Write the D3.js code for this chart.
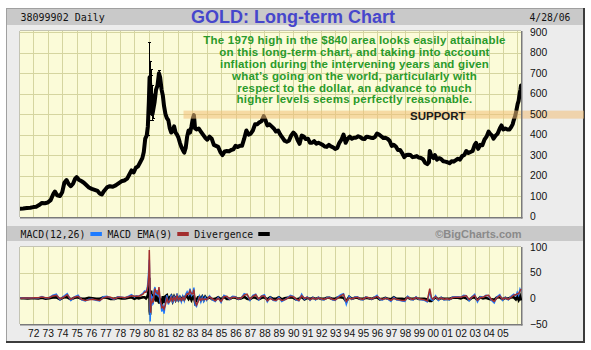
<!DOCTYPE html>
<html><head><meta charset="utf-8">
<script src="https://cdn.jsdelivr.net/npm/d3@7"></script>
<style>body{margin:0;background:#fff}svg{display:block}</style>
</head><body>
<svg id="c" width="591" height="350"></svg>
<script>
// ---------------- DATA ----------------
const yearTicks  = [1972,1973,1974,1975,1976,1977,1978,1979,1980,1981,1982,1983,1984,1985,1986,1987,1988,1989,1990,1991,1992,1993,1994,1995,1996,1997,1998,1999,2000,2001,2002,2003,2004,2005];
const yearLabels = ["72","73","74","75","76","77","78","79","80","81","82","83","84","85","86","87","88","89","90","91","92","93","94","95","96","97","98","99","00","01","02","03","04","05"];
const gridYears  = [1972,1973,1974,1975,1976,1977,1978,1979,1980,1981,1982,1983,1984,1985,1986,1987,1988,1989,1990,1991,1992,1993,1994,1995,1996,1997,1998,1999,2000,2001,2002,2003,2004,2005,2006];
const priceTicks = [0,100,200,300,400,500,600,700,800,900];
const macdTicks  = [-50,0,50,100];
const macdGrid   = [0,50];

const priceYears = [
 1971.08,1971.3,1971.55,1971.8,1972.0,1972.2,1972.4,1972.6,1972.8,1973.0,
 1973.2,1973.4,1973.5,1973.65,1973.85,1974.0,1974.15,1974.3,1974.45,1974.6,
 1974.75,1974.9,1975.0,1975.15,1975.35,1975.5,1975.65,1975.85,1976.05,1976.25,
 1976.45,1976.6,1976.75,1976.9,1977.1,1977.3,1977.5,1977.7,1977.9,1978.1,
 1978.3,1978.5,1978.65,1978.8,1978.95,1979.1,1979.25,1979.4,1979.55,1979.65,
 1979.75,1979.85,1979.93,1980.0,1980.05,1980.1,1980.15,1980.2,1980.25,1980.3,
 1980.4,1980.5,1980.6,1980.7,1980.78,1980.88,1980.97,1981.05,1981.15,1981.25,
 1981.35,1981.45,1981.55,1981.65,1981.75,1981.85,1981.95,1982.05,1982.15,1982.25,
 1982.35,1982.45,1982.55,1982.65,1982.75,1982.85,1982.95,1983.05,1983.12,1983.2,
 1983.3,1983.45,1983.6,1983.75,1983.9,1984.05,1984.2,1984.35,1984.5,1984.65,
 1984.8,1984.95,1985.1,1985.25,1985.4,1985.55,1985.7,1985.85,1986.0,1986.15,
 1986.3,1986.45,1986.6,1986.75,1986.9,1987.05,1987.2,1987.35,1987.5,1987.65,
 1987.8,1987.95,1988.05,1988.2,1988.35,1988.5,1988.65,1988.8,1988.95,1989.1,
 1989.25,1989.4,1989.55,1989.7,1989.85,1990.0,1990.15,1990.3,1990.45,1990.6,
 1990.75,1990.9,1991.05,1991.2,1991.35,1991.5,1991.65,1991.8,1991.95,1992.1,
 1992.25,1992.4,1992.55,1992.7,1992.85,1993.0,1993.15,1993.3,1993.45,1993.6,
 1993.75,1993.9,1994.05,1994.2,1994.35,1994.5,1994.65,1994.8,1994.95,1995.1,
 1995.25,1995.4,1995.55,1995.7,1995.85,1996.0,1996.15,1996.3,1996.45,1996.6,
 1996.75,1996.9,1997.05,1997.2,1997.35,1997.5,1997.65,1997.8,1997.95,1998.1,
 1998.25,1998.4,1998.55,1998.7,1998.85,1999.0,1999.15,1999.3,1999.45,1999.6,
 1999.72,1999.78,1999.9,2000.05,2000.15,2000.3,2000.45,2000.6,2000.75,2000.9,
 2001.05,2001.2,2001.35,2001.5,2001.65,2001.8,2001.95,2002.1,2002.25,2002.4,
 2002.55,2002.7,2002.85,2003.0,2003.1,2003.25,2003.4,2003.55,2003.7,2003.85,
 2004.0,2004.1,2004.25,2004.35,2004.5,2004.65,2004.8,2004.92,2005.05,2005.2,
 2005.35,2005.5,2005.6,2005.72,2005.8,2005.9,2005.98,2006.08,2006.15,2006.22,
 2006.28,2006.32];
const priceValues = [
 38,39,41,43,46,48,56,66,65,68,
 80,112,122,104,100,118,165,178,158,148,
 160,185,192,180,172,165,155,142,135,130,
 125,112,108,125,142,148,145,152,162,172,
 176,185,205,225,215,238,245,265,285,315,
 380,395,440,560,680,640,600,560,500,520,
 560,620,640,700,680,620,590,540,500,480,
 470,430,410,420,440,410,400,385,360,340,
 325,312,335,390,420,410,440,480,495,430,
 425,430,415,400,385,375,390,380,350,345,
 340,315,300,318,320,318,325,328,345,340,
 345,345,380,420,400,405,420,450,450,460,
 465,490,475,445,450,440,430,415,420,400,
 385,370,365,370,395,410,400,375,355,395,
 390,378,380,360,360,368,355,360,355,350,
 342,340,350,342,338,330,335,360,375,400,
 360,380,390,380,385,385,392,388,380,378,
 390,388,385,383,388,405,400,392,383,385,
 380,370,345,350,342,325,325,310,290,300,
 302,300,290,292,295,288,286,280,262,256,
 265,320,295,285,300,278,285,280,270,268,
 265,260,270,268,275,282,278,295,300,320,
 310,315,320,350,360,330,350,348,375,390,
 415,405,395,380,395,405,430,445,425,430,
 425,425,435,450,470,490,515,550,565,600,
 620,640];

// high-low range bars of the most volatile days (1979-80 blow-off)
const rangeYears = [1979.93,1979.98,1980.03,1980.07,1980.12,1980.17,1980.22,1980.28,1980.7];
const rangeLows  = [400,470,520,560,540,500,470,480,640];
const rangeHighs = [500,640,852,760,720,690,640,600,715];

// support zone
const supportYears  = [1982.4];
const supportLevels = [478,517];

// MACD(12,26), EMA(9) and divergence
const macdYears = [
 1971.1,1971.35,1971.6,1971.85,1972.1,1972.35,1972.6,1972.85,1973.1,1973.35,
 1973.6,1973.85,1974.1,1974.35,1974.6,1974.85,1975.1,1975.35,1975.6,1975.85,
 1976.1,1976.35,1976.6,1976.85,1977.1,1977.35,1977.6,1977.85,1978.1,1978.35,
 1978.6,1978.8,1979.0,1979.15,1979.3,1979.45,1979.6,1979.7,1979.8,1979.9,
 1979.95,1980.0,1980.03,1980.06,1980.09,1980.12,1980.16,1980.2,1980.25,1980.3,
 1980.35,1980.42,1980.5,1980.57,1980.64,1980.7,1980.77,1980.84,1980.9,1980.97,
 1981.05,1981.15,1981.25,1981.35,1981.45,1981.55,1981.65,1981.75,1981.85,1981.95,
 1982.05,1982.15,1982.25,1982.35,1982.45,1982.55,1982.65,1982.75,1982.85,1982.95,
 1983.05,1983.12,1983.2,1983.3,1983.4,1983.5,1983.6,1983.7,1983.8,1983.9,
 1984.0,1984.2,1984.4,1984.6,1984.8,1985.0,1985.2,1985.4,1985.6,1985.8,
 1986.0,1986.2,1986.4,1986.6,1986.8,1987.0,1987.2,1987.4,1987.6,1987.8,
 1988.0,1988.2,1988.4,1988.6,1988.8,1989.0,1989.2,1989.4,1989.6,1989.8,
 1990.0,1990.2,1990.4,1990.6,1990.8,1991.0,1991.2,1991.4,1991.6,1991.8,
 1992.0,1992.2,1992.4,1992.6,1992.8,1993.0,1993.2,1993.4,1993.6,1993.8,
 1994.0,1994.2,1994.4,1994.6,1994.8,1995.0,1995.2,1995.4,1995.6,1995.8,
 1996.0,1996.2,1996.4,1996.6,1996.8,1997.0,1997.2,1997.4,1997.6,1997.8,
 1998.0,1998.2,1998.4,1998.6,1998.8,1999.0,1999.2,1999.4,1999.6,1999.78,
 1999.9,2000.0,2000.2,2000.4,2000.6,2000.8,2001.0,2001.2,2001.4,2001.6,
 2001.8,2002.0,2002.2,2002.4,2002.6,2002.8,2003.0,2003.2,2003.4,2003.6,
 2003.8,2004.0,2004.2,2004.4,2004.6,2004.8,2005.0,2005.2,2005.4,2005.6,
 2005.8,2005.95,2006.05,2006.15,2006.25,2006.32];
const macdValues = [
 0.5,0.8,0.6,1,1.2,0.8,3.5,0.5,1.5,6,
 8,-3,4,9,-4,3,6,-3,-5,-2,
 -2,-4,-5,3,4,1,-2,3,2,1,
 4,7,3,5,4,7,10,14,12,22,
 35,60,75,30,-45,-20,8,-15,4,-12,
 14,22,6,16,4,14,-6,-14,-26,-12,
 -30,-8,6,-12,-4,7,-10,5,-7,9,
 -6,3,-7,4,-5,8,13,7,19,6,
 12,21,-13,-16,-5,4,-7,3,-6,2,
 -4,5,-3,-6,2,-8,6,3,-2,4,
 3,-2,1,9,7,-4,6,8,-3,5,
 7,-7,2,-4,-5,2,-6,-3,1,6,
 4,-3,-5,8,-2,3,-4,2,-3,2,
 -2,-3,1,2,-3,-4,3,7,9,-12,
 4,-2,2,3,-2,-3,3,1,-2,2,
 6,-2,-3,1,-2,-6,2,-3,-4,-5,
 -6,4,-2,-3,3,-2,-3,-4,-7,14,
 -3,-4,5,-4,2,-3,-2,-3,2,3,
 3,2,6,5,-5,3,8,-7,3,2,
 6,5,-4,-9,3,7,-4,2,-3,4,
 8,5,12,6,18,14];
const emaValues = [
 0.4,0.6,0.7,0.8,1,1,2.5,1.2,1.2,4.5,
 6,-1,2,7,-2,2,4,-2,-4,-3,
 -2,-3,-4,1,3,2,-1,2,2,1,
 3,5,4,4,4,6,8,12,12,18,
 28,48,94,55,-5,-28,-6,-10,0,-8,
 6,19,12,10,8,22,2,-8,-18,-16,
 -21,-12,0,-8,-6,2,-5,2,-4,5,
 -3,1,-4,2,-3,4,9,8,15,9,
 9,17,-5,-13,-7,1,-4,0,-3,-1,
 -3,3,-1,-5,0,-6,3,4,-1,2,
 2,-1,1,6,8,-2,4,7,-1,4,
 5,-5,0,-3,-4,0,-4,-3,0,4,
 3,-1,-4,5,0,2,-3,1,-2,1,
 -1,-2,0,1,-2,-3,1,5,8,-6,
 1,-1,1,2,-1,-2,2,1,-1,1,
 4,0,-2,0,-1,-4,0,-2,-3,-4,
 -4,2,-1,-2,2,-1,-2,-3,-5,19,
 2,-2,3,-2,1,-2,-1,-2,1,2,
 2,2,4,5,-2,2,6,-4,1,2,
 5,6,-2,-6,1,5,-2,1,-2,2,
 6,7,9,9,14,18];
const divergenceValues = [
 0.1,0.2,-0.1,0.2,0.2,-0.2,1,-0.7,0.3,1.5,
 2,-2,2,2,-2,1,2,-1,-1,1,
 0,-1,-1,2,1,-1,-1,1,0,0,
 1,2,-1,1,0,1,2,2,0,4,
 8,20,40,-25,-32,8,15,-5,4,-4,
 8,3,-6,6,-4,-8,-8,-6,-8,4,
 -9,4,6,-4,2,5,-5,3,-3,4,
 -3,2,-3,2,-2,4,4,-1,4,-3,
 3,4,-8,-3,2,3,-3,3,-3,3,
 -1,2,-2,-1,2,-2,3,-1,-1,2,
 1,-1,0,3,-1,-2,2,1,-2,1,
 2,-2,2,-1,-1,2,-2,0,1,2,
 1,-2,-1,3,-2,1,-1,1,-1,1,
 -1,-1,1,1,-1,-1,2,2,1,-6,
 3,-1,1,1,-1,-1,1,0,-1,1,
 2,-2,-1,1,-1,-2,2,-1,-1,-1,
 -2,2,-1,-1,1,-1,-1,-1,-2,-5,
 -5,-2,2,-2,1,-1,-1,-1,1,1,
 1,0,2,0,-3,1,2,-3,2,0,
 1,-1,-2,-3,2,2,-2,1,-1,2,
 2,-2,3,-3,4,-4];

const noteLines = [
 "The 1979 high in the $840 area looks easily attainable",
 "on this long-term chart, and taking into account",
 "inflation during the intervening years and given",
 "what\u2019s going on the world, particularly with",
 "respect to the dollar, an advance to much",
 "higher levels seems perfectly reasonable."
];

// ---------------- LAYOUT ----------------
const svg = d3.select("#c");
const SANS = "'Liberation Sans', Arial, sans-serif";
const MONO = "'DejaVu Sans Mono', 'Liberation Mono', monospace";
const P = {l:20, r:521, t:31, b:217};
const M = {t:247, b:324};

const x  = d3.scaleLinear().domain([1971.08, 1990, 2006.32]).range([P.l, 293.3, P.r]);
const yP = d3.scaleLinear().domain([0, 906]).range([216.5, P.t]);
const yM = d3.scaleLinear().domain([-50, 100]).range([M.b, M.t]);

// outer frame
svg.append("rect").attr("x",6).attr("y",8).attr("width",578).attr("height",334).attr("fill","#ececec");
svg.append("rect").attr("x",7).attr("y",9).attr("width",576).attr("height",16).attr("fill","#c9c9c9");
svg.append("rect").attr("x",7).attr("y",226).attr("width",576).attr("height",15).attr("fill","#c9c9c9");
svg.append("line").attr("x1",6.5).attr("x2",6.5).attr("y1",8).attr("y2",342).attr("stroke","#a0a0a0");
svg.append("line").attr("x1",6).attr("x2",584).attr("y1",8.5).attr("y2",8.5).attr("stroke","#a0a0a0");
svg.append("line").attr("x1",584).attr("x2",584).attr("y1",8).attr("y2",343).attr("stroke","#3c3c3c").attr("stroke-width",2);
svg.append("line").attr("x1",6).attr("x2",585).attr("y1",342).attr("y2",342).attr("stroke","#3c3c3c").attr("stroke-width",2);

// header texts
svg.append("text").attr("x",20.5).attr("y",20.5).attr("font-family",MONO).attr("font-size",10).attr("fill","#111").text("38099902 Daily");
svg.append("text").attr("x",529.5).attr("y",20.5).attr("font-family",MONO).attr("font-size",9.7).attr("fill","#111").text("4/28/06");
svg.append("text").attr("x",293).attr("y",22.5).attr("text-anchor","middle").attr("font-family",SANS).attr("font-weight","bold").attr("font-size",18).attr("fill","#4646cc").text("GOLD: Long-term Chart");

// panel backgrounds
function panel(top, bottom){
  svg.append("rect").attr("x",P.l).attr("y",top).attr("width",P.r-P.l).attr("height",bottom-top).attr("fill","#fbfbd8");
}
panel(P.t, P.b);
panel(M.t, M.b);

// grids
const grid = svg.append("g").attr("stroke","#d5d5a0").attr("stroke-width",1);
grid.selectAll("line.vp").data(gridYears).join("line").attr("class","vp")
  .attr("x1",d=>Math.round(x(d))+0.5).attr("x2",d=>Math.round(x(d))+0.5).attr("y1",P.t).attr("y2",P.b);
grid.selectAll("line.hp").data(priceTicks.filter(v=>v>0)).join("line").attr("class","hp")
  .attr("x1",P.l).attr("x2",P.r).attr("y1",d=>Math.round(yP(d))+0.5).attr("y2",d=>Math.round(yP(d))+0.5);
const grid2 = svg.append("g").attr("stroke","#d5d5a0").attr("stroke-width",1);
grid2.selectAll("line.vm").data(gridYears).join("line").attr("class","vm")
  .attr("x1",d=>Math.round(x(d))+0.5).attr("x2",d=>Math.round(x(d))+0.5).attr("y1",M.t).attr("y2",M.b);
grid2.selectAll("line.hm").data(macdGrid).join("line").attr("class","hm")
  .attr("x1",P.l).attr("x2",P.r).attr("y1",d=>Math.round(yM(d))+0.5).attr("y2",d=>Math.round(yM(d))+0.5);

// clip paths
const defs = svg.append("defs");
defs.append("clipPath").attr("id","cp").append("rect").attr("x",P.l).attr("y",P.t).attr("width",P.r-P.l).attr("height",P.b-P.t);
defs.append("clipPath").attr("id","cm").append("rect").attr("x",P.l).attr("y",M.t).attr("width",P.r-P.l+1).attr("height",M.b-M.t);

// price series
const gp = svg.append("g").attr("clip-path","url(#cp)");
const priceLine = d3.line().x((d,i)=>x(priceYears[i])).y(d=>yP(d));
gp.append("path").datum(priceValues).attr("d",priceLine).attr("fill","none")
  .attr("stroke","#000").attr("stroke-width",4).attr("stroke-linejoin","round").attr("stroke-linecap","round");
const rg = gp.append("g").attr("stroke","#000").attr("stroke-width",1);
rangeYears.forEach((yr,i)=>{
  const xx = Math.round(x(yr))+0.5;
  rg.append("line").attr("x1",xx).attr("x2",xx).attr("y1",yP(rangeLows[i])).attr("y2",yP(rangeHighs[i]));
  [rangeLows[i], rangeHighs[i]].forEach(v=>{
    rg.append("line").attr("x1",xx-1.5).attr("x2",xx+1.5).attr("y1",Math.round(yP(v))+0.5).attr("y2",Math.round(yP(v))+0.5);
  });
});

// support zone (translucent, over price)
svg.append("rect").attr("x",x(supportYears[0])).attr("y",yP(supportLevels[1]))
  .attr("width",584-x(supportYears[0])).attr("height",yP(supportLevels[0])-yP(supportLevels[1]))
  .attr("fill","#f2bf78").attr("opacity",0.55);

// panel borders
function borders(top,bottom){
  svg.append("line").attr("x1",P.l-0.5).attr("x2",P.l-0.5).attr("y1",top).attr("y2",bottom).attr("stroke","#c4c4b4");
  svg.append("line").attr("x1",P.l).attr("x2",P.r).attr("y1",top-0.5).attr("y2",top-0.5).attr("stroke","#c4c4b4");
  svg.append("line").attr("x1",P.r+0.75).attr("x2",P.r+0.75).attr("y1",top).attr("y2",bottom+1.5).attr("stroke","#7a7a7a").attr("stroke-width",1.5);
  svg.append("line").attr("x1",P.l).attr("x2",P.r+1.5).attr("y1",bottom+0.75).attr("y2",bottom+0.75).attr("stroke","#7a7a7a").attr("stroke-width",1.5);
}
borders(P.t,P.b);
borders(M.t,M.b);

// annotation text
const note = svg.append("text").attr("text-anchor","middle").attr("font-family",SANS).attr("font-weight","bold")
  .attr("font-size",11.5).attr("letter-spacing",0.2).attr("fill","#2a9a2a");
noteLines.forEach((t,i)=>{
  note.append("tspan").attr("x",354.5).attr("y",44.3+i*11.8).text(t);
});
svg.append("text").attr("x",410).attr("y",119.5).attr("font-family",SANS).attr("font-weight","bold")
  .attr("font-size",11.5).attr("fill","#1a1a1a").text("SUPPORT");

// right axes
const axP = svg.append("g").attr("transform","translate(530,0)")
  .call(d3.axisRight(yP).tickValues(priceTicks).tickSize(0).tickPadding(0));
const axM = svg.append("g").attr("transform","translate(530,0)")
  .call(d3.axisRight(yM).tickValues(macdTicks).tickSize(0).tickPadding(0).tickFormat(d=>d<0?"\u2212"+Math.abs(d):String(d)));
[axP,axM].forEach(g=>{
  g.select(".domain").remove();
  g.attr("font-family",SANS).attr("font-size",10.3);
  g.selectAll("text").attr("fill","#111");
});

// MACD panel
const gm = svg.append("g").attr("clip-path","url(#cm)");
const lineOf = arr => d3.line().x((d,i)=>x(macdYears[i])).y(d=>yM(d))(arr);
gm.append("path").attr("d",lineOf(divergenceValues)).attr("fill","none").attr("stroke","#000").attr("stroke-width",2.6);
gm.append("path").attr("d",lineOf(macdValues)).attr("fill","none").attr("stroke","#1e7bff").attr("stroke-width",1.5);
gm.append("path").attr("d",lineOf(emaValues)).attr("fill","none").attr("stroke","#a32e2e").attr("stroke-width",1.5);

// bottom axis
const axX = svg.append("g").attr("transform","translate(0,326.5)")
  .call(d3.axisBottom(x).tickValues(yearTicks).tickSize(0).tickPadding(3).tickFormat((d,i)=>yearLabels[i]));
axX.select(".domain").remove();
axX.attr("font-family",SANS).attr("font-size",10.3);
axX.selectAll("text").attr("fill","#111");

// legend
const legend = [
  {label:"MACD(12,26)", color:"#1e7bff"},
  {label:"MACD EMA(9)", color:"#a32e2e"},
  {label:"Divergence",  color:"#000"}
];
let lx = 20.5;
legend.forEach(it=>{
  const t = svg.append("text").attr("x",lx).attr("y",237.5).attr("font-family",MONO).attr("font-size",9.8).attr("fill","#111").text(it.label);
  const w = t.node().getComputedTextLength();
  svg.append("rect").attr("x",lx+w+5).attr("y",232).attr("width",11.5).attr("height",4).attr("fill",it.color);
  lx = lx + w + 22;
});
svg.append("text").attr("x",521.5).attr("y",238).attr("text-anchor","end").attr("font-family",SANS).attr("font-weight","bold")
  .attr("font-size",11).attr("fill","#8a8a8a").text("\u00a9BigCharts.com");
</script>
</body></html>
